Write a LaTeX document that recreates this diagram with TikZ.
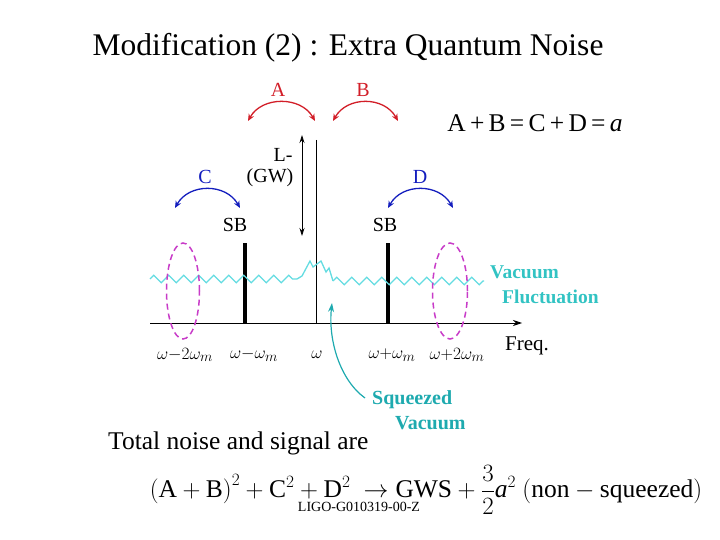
\documentclass[tikz,border=0pt]{standalone}
\usepackage{fontspec}
\setmainfont{Liberation Serif}
\usetikzlibrary{arrows.meta,decorations.pathmorphing,shapes.geometric}
\definecolor{abred}{RGB}{210,30,40}
\definecolor{cdblue}{RGB}{20,30,190}
\definecolor{zigcyan}{RGB}{100,220,225}
\definecolor{vactext}{RGB}{50,195,195}
\definecolor{sqteal}{RGB}{30,170,175}
\definecolor{ellmag}{RGB}{200,60,200}
\tikzset{
  lbl/.style={inner sep=0pt,font=\fontsize{20}{22}\selectfont},
  wlbl/.style={inner sep=0pt,font=\fontsize{19}{21}\selectfont},
  redarc/.style={draw=abred,line width=1.3pt,{Stealth[length=7pt,width=6pt]}-{Stealth[length=7pt,width=6pt]}},
  bluearc/.style={draw=cdblue,line width=1.3pt,{Stealth[length=7pt,width=6pt]}-{Stealth[length=7pt,width=6pt]}},
  sbbar/.style={line width=4pt},
  zig/.style={draw=zigcyan,line width=1.3pt},
  ell/.style={draw=ellmag,line width=1.5pt,dash pattern=on 6pt off 4pt},
  vac/.style={inner sep=0pt,text=vactext,font=\fontsize{19.5}{21}\selectfont\bfseries},
  sq/.style={inner sep=0pt,text=sqteal,font=\fontsize{20}{22}\selectfont\bfseries},
}
\begin{document}
\begin{tikzpicture}[x=1pt,y=-1pt]
\useasboundingbox (0,0) rectangle (720,540);
% title
\node[inner sep=0pt,font=\fontsize{31.5}{34}\selectfont] (title) at (348,48) {Modification (2) : Extra Quantum Noise};
\node[inner sep=0pt,font=\fontsize{25.5}{28}\selectfont] (eqa) at (535,123) {A\,+\,B\,=\,C\,+\,D\,=\,\textit{a}};
% axis
\coordinate (ax0) at (150,323);
\coordinate (ax1) at (522,323);
\draw[line width=0.8pt,-{Stealth[length=9pt,width=6pt]}] (ax0) -- (ax1);
\node[inner sep=0pt,anchor=west,font=\fontsize{21}{23}\selectfont] (freq) at (505,346) {Freq.};
% center line
\coordinate (c0) at (316,140);
\coordinate (c1) at (316,323);
\draw[line width=0.8pt] (c0) -- (c1);
% SB bars
\coordinate (sbl0) at (245,243); \coordinate (sbl1) at (245,324);
\coordinate (sbr0) at (388,243); \coordinate (sbr1) at (388,324);
\draw[sbbar] (sbl0) -- (sbl1);
\draw[sbbar] (sbr0) -- (sbr1);
\node[lbl] (sbl) at (235,225) {SB};
\node[lbl] (sbr) at (385,225) {SB};
% double arrow
\coordinate (d0) at (302,135);
\coordinate (d1) at (302,236);
\draw[line width=0.8pt,{Stealth[length=8pt,width=5pt]}-{Stealth[length=8pt,width=5pt]}] (d0) -- (d1);
\node[lbl] (lm) at (283,155) {L-};
\node[lbl] (gw) at (270,178) {(GW)};
% A B arcs
\node[lbl,text=abred] (A) at (278,90) {A};
\node[lbl,text=abred] (B) at (363,90) {B};
\coordinate (a0) at (248,121); \coordinate (a1) at (315,121);
\coordinate (b0) at (333,121); \coordinate (b1) at (398,121);
\draw[redarc] (a0) .. controls (262,96) and (301,96) .. (a1);
\draw[redarc] (b0) .. controls (347,96) and (384,96) .. (b1);
% C D arcs
\node[lbl,text=cdblue] (C) at (205,177) {C};
\node[lbl,text=cdblue] (D) at (420,177) {D};
\coordinate (cc0) at (175,208); \coordinate (cc1) at (240,208);
\coordinate (dd0) at (388,208); \coordinate (dd1) at (453,208);
\draw[bluearc] (cc0) .. controls (189,183) and (226,183) .. (cc1);
\draw[bluearc] (dd0) .. controls (402,183) and (439,183) .. (dd1);
% zigzag
\coordinate (z0) at (150,279);
\coordinate (z1) at (297,279);
\coordinate (z2) at (333,281);
\coordinate (z3) at (484,281);
\draw[zig,decorate,decoration={zigzag,segment length=15pt,amplitude=3.8pt}] (z0) -- (z1);
\draw[zig] (z1) -- (302,276) -- (310,261) -- (313,267) -- (321,261) -- (326,272) -- (329,268) -- (z2);
\draw[zig,decorate,decoration={zigzag,segment length=15pt,amplitude=3.8pt}] (z2) -- (z3);
% ellipses
\node[ell,ellipse,minimum width=33pt,minimum height=96pt,inner sep=0pt] (el) at (183,291) {};
\node[ell,ellipse,minimum width=35pt,minimum height=96pt,inner sep=0pt] (er) at (450,291) {};
% omega labels
\node[wlbl] (w1) at (185,355) {$\omega{-}2\omega_{m}$};
\node[wlbl] (w2) at (254,355) {$\omega{-}\omega_{m}$};
\node[wlbl] (w3) at (317,355) {$\omega$};
\node[wlbl] (w4) at (392,355) {$\omega{+}\omega_{m}$};
\node[wlbl] (w5) at (457,355) {$\omega{+}2\omega_{m}$};
% vacuum fluctuation
\node[vac,anchor=west] (vac1) at (490,272) {Vacuum};
\node[vac,anchor=west] (vac2) at (502,297) {Fluctuation};
% squeezed vacuum
\node[sq,anchor=west] (sq1) at (372,400) {Squeezed};
\node[sq,anchor=west] (sq2) at (395,423) {Vacuum};
\coordinate (sqt) at (365,398);
\coordinate (sqh) at (332,303);
\draw[draw=sqteal,line width=1.2pt,-{Stealth[length=9pt,width=6pt]}] (sqt) .. controls (340,380) and (328,340) .. (sqh);
% bottom text
\node[inner sep=0pt,anchor=west,font=\fontsize{25.5}{28}\selectfont] (tot) at (108,443) {Total noise and signal are};
\node[inner sep=0pt,font=\fontsize{25.5}{28}\selectfont] (eqb) at (426,490)
  {$\displaystyle\Big(\mathrm{A}+\mathrm{B}\Big)^{2}+\mathrm{C}^{2}+\mathrm{D}^{2}\ \rightarrow\mathrm{GWS}+\frac{3}{2}\mathit{a}^{2}\ \Big(\mathrm{non}-\mathrm{squeezed}\Big)$};
\node[inner sep=0pt,font=\fontsize{14}{15}\selectfont] (ligo) at (359,507) {LIGO-G010319-00-Z};
\end{tikzpicture}
\end{document}
